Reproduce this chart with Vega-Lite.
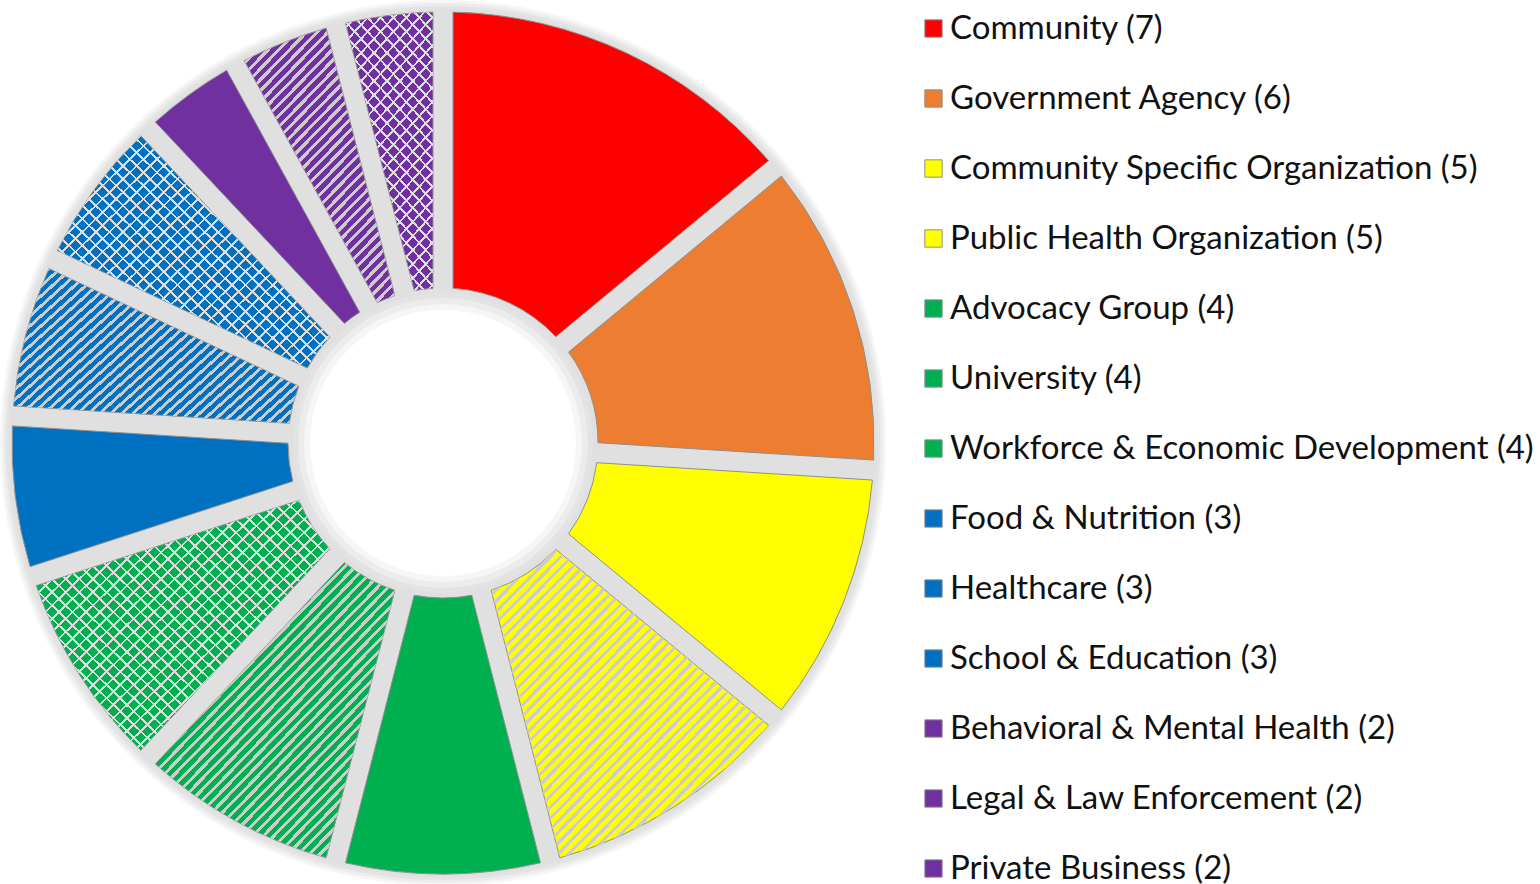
{
"$schema":"https://vega.github.io/schema/vega-lite/v6.json",
"width":886,"height":886,"padding":0,
"background":"white",
"config":{"view":{"stroke":null},"font":"Lato"},
"params":[
{"name":"st","value":[
{"offset":0,"color":"#0000"},{"offset":0,"color":"#ccc"},{"offset":0.008,"color":"#ccc"},{"offset":0.008,"color":"#0000"},
{"offset":0.02,"color":"#0000"},{"offset":0.02,"color":"#ccc"},{"offset":0.028,"color":"#ccc"},{"offset":0.028,"color":"#0000"},
{"offset":0.04,"color":"#0000"},{"offset":0.04,"color":"#ccc"},{"offset":0.048,"color":"#ccc"},{"offset":0.048,"color":"#0000"},
{"offset":0.06,"color":"#0000"},{"offset":0.06,"color":"#ccc"},{"offset":0.068,"color":"#ccc"},{"offset":0.068,"color":"#0000"},
{"offset":0.08,"color":"#0000"},{"offset":0.08,"color":"#ccc"},{"offset":0.088,"color":"#ccc"},{"offset":0.088,"color":"#0000"},
{"offset":0.1,"color":"#0000"},{"offset":0.1,"color":"#ccc"},{"offset":0.108,"color":"#ccc"},{"offset":0.108,"color":"#0000"},
{"offset":0.12,"color":"#0000"},{"offset":0.12,"color":"#ccc"},{"offset":0.128,"color":"#ccc"},{"offset":0.128,"color":"#0000"},
{"offset":0.14,"color":"#0000"},{"offset":0.14,"color":"#ccc"},{"offset":0.148,"color":"#ccc"},{"offset":0.148,"color":"#0000"},
{"offset":0.16,"color":"#0000"},{"offset":0.16,"color":"#ccc"},{"offset":0.168,"color":"#ccc"},{"offset":0.168,"color":"#0000"},
{"offset":0.18,"color":"#0000"},{"offset":0.18,"color":"#ccc"},{"offset":0.188,"color":"#ccc"},{"offset":0.188,"color":"#0000"},
{"offset":0.2,"color":"#0000"},{"offset":0.2,"color":"#ccc"},{"offset":0.208,"color":"#ccc"},{"offset":0.208,"color":"#0000"},
{"offset":0.22,"color":"#0000"},{"offset":0.22,"color":"#ccc"},{"offset":0.228,"color":"#ccc"},{"offset":0.228,"color":"#0000"},
{"offset":0.24,"color":"#0000"},{"offset":0.24,"color":"#ccc"},{"offset":0.248,"color":"#ccc"},{"offset":0.248,"color":"#0000"},
{"offset":0.26,"color":"#0000"},{"offset":0.26,"color":"#ccc"},{"offset":0.268,"color":"#ccc"},{"offset":0.268,"color":"#0000"},
{"offset":0.28,"color":"#0000"},{"offset":0.28,"color":"#ccc"},{"offset":0.288,"color":"#ccc"},{"offset":0.288,"color":"#0000"},
{"offset":0.3,"color":"#0000"},{"offset":0.3,"color":"#ccc"},{"offset":0.308,"color":"#ccc"},{"offset":0.308,"color":"#0000"},
{"offset":0.32,"color":"#0000"},{"offset":0.32,"color":"#ccc"},{"offset":0.328,"color":"#ccc"},{"offset":0.328,"color":"#0000"},
{"offset":0.34,"color":"#0000"},{"offset":0.34,"color":"#ccc"},{"offset":0.348,"color":"#ccc"},{"offset":0.348,"color":"#0000"},
{"offset":0.36,"color":"#0000"},{"offset":0.36,"color":"#ccc"},{"offset":0.368,"color":"#ccc"},{"offset":0.368,"color":"#0000"},
{"offset":0.38,"color":"#0000"},{"offset":0.38,"color":"#ccc"},{"offset":0.388,"color":"#ccc"},{"offset":0.388,"color":"#0000"},
{"offset":0.4,"color":"#0000"},{"offset":0.4,"color":"#ccc"},{"offset":0.408,"color":"#ccc"},{"offset":0.408,"color":"#0000"},
{"offset":0.42,"color":"#0000"},{"offset":0.42,"color":"#ccc"},{"offset":0.428,"color":"#ccc"},{"offset":0.428,"color":"#0000"},
{"offset":0.44,"color":"#0000"},{"offset":0.44,"color":"#ccc"},{"offset":0.448,"color":"#ccc"},{"offset":0.448,"color":"#0000"},
{"offset":0.46,"color":"#0000"},{"offset":0.46,"color":"#ccc"},{"offset":0.468,"color":"#ccc"},{"offset":0.468,"color":"#0000"},
{"offset":0.48,"color":"#0000"},{"offset":0.48,"color":"#ccc"},{"offset":0.488,"color":"#ccc"},{"offset":0.488,"color":"#0000"},
{"offset":0.5,"color":"#0000"},{"offset":0.5,"color":"#ccc"},{"offset":0.508,"color":"#ccc"},{"offset":0.508,"color":"#0000"},
{"offset":0.52,"color":"#0000"},{"offset":0.52,"color":"#ccc"},{"offset":0.528,"color":"#ccc"},{"offset":0.528,"color":"#0000"},
{"offset":0.54,"color":"#0000"},{"offset":0.54,"color":"#ccc"},{"offset":0.548,"color":"#ccc"},{"offset":0.548,"color":"#0000"},
{"offset":0.56,"color":"#0000"},{"offset":0.56,"color":"#ccc"},{"offset":0.568,"color":"#ccc"},{"offset":0.568,"color":"#0000"},
{"offset":0.58,"color":"#0000"},{"offset":0.58,"color":"#ccc"},{"offset":0.588,"color":"#ccc"},{"offset":0.588,"color":"#0000"},
{"offset":0.6,"color":"#0000"},{"offset":0.6,"color":"#ccc"},{"offset":0.608,"color":"#ccc"},{"offset":0.608,"color":"#0000"},
{"offset":0.62,"color":"#0000"},{"offset":0.62,"color":"#ccc"},{"offset":0.628,"color":"#ccc"},{"offset":0.628,"color":"#0000"},
{"offset":0.64,"color":"#0000"},{"offset":0.64,"color":"#ccc"},{"offset":0.648,"color":"#ccc"},{"offset":0.648,"color":"#0000"},
{"offset":0.66,"color":"#0000"},{"offset":0.66,"color":"#ccc"},{"offset":0.668,"color":"#ccc"},{"offset":0.668,"color":"#0000"},
{"offset":0.68,"color":"#0000"},{"offset":0.68,"color":"#ccc"},{"offset":0.688,"color":"#ccc"},{"offset":0.688,"color":"#0000"},
{"offset":0.7,"color":"#0000"},{"offset":0.7,"color":"#ccc"},{"offset":0.708,"color":"#ccc"},{"offset":0.708,"color":"#0000"},
{"offset":0.72,"color":"#0000"},{"offset":0.72,"color":"#ccc"},{"offset":0.728,"color":"#ccc"},{"offset":0.728,"color":"#0000"},
{"offset":0.74,"color":"#0000"},{"offset":0.74,"color":"#ccc"},{"offset":0.748,"color":"#ccc"},{"offset":0.748,"color":"#0000"},
{"offset":0.76,"color":"#0000"},{"offset":0.76,"color":"#ccc"},{"offset":0.768,"color":"#ccc"},{"offset":0.768,"color":"#0000"},
{"offset":0.78,"color":"#0000"},{"offset":0.78,"color":"#ccc"},{"offset":0.788,"color":"#ccc"},{"offset":0.788,"color":"#0000"},
{"offset":0.8,"color":"#0000"},{"offset":0.8,"color":"#ccc"},{"offset":0.808,"color":"#ccc"},{"offset":0.808,"color":"#0000"},
{"offset":0.82,"color":"#0000"},{"offset":0.82,"color":"#ccc"},{"offset":0.828,"color":"#ccc"},{"offset":0.828,"color":"#0000"},
{"offset":0.84,"color":"#0000"},{"offset":0.84,"color":"#ccc"},{"offset":0.848,"color":"#ccc"},{"offset":0.848,"color":"#0000"},
{"offset":0.86,"color":"#0000"},{"offset":0.86,"color":"#ccc"},{"offset":0.868,"color":"#ccc"},{"offset":0.868,"color":"#0000"},
{"offset":0.88,"color":"#0000"},{"offset":0.88,"color":"#ccc"},{"offset":0.888,"color":"#ccc"},{"offset":0.888,"color":"#0000"},
{"offset":0.9,"color":"#0000"},{"offset":0.9,"color":"#ccc"},{"offset":0.908,"color":"#ccc"},{"offset":0.908,"color":"#0000"},
{"offset":0.92,"color":"#0000"},{"offset":0.92,"color":"#ccc"},{"offset":0.928,"color":"#ccc"},{"offset":0.928,"color":"#0000"},
{"offset":0.94,"color":"#0000"},{"offset":0.94,"color":"#ccc"},{"offset":0.948,"color":"#ccc"},{"offset":0.948,"color":"#0000"},
{"offset":0.96,"color":"#0000"},{"offset":0.96,"color":"#ccc"},{"offset":0.968,"color":"#ccc"},{"offset":0.968,"color":"#0000"},
{"offset":0.98,"color":"#0000"},{"offset":0.98,"color":"#ccc"},{"offset":0.988,"color":"#ccc"},{"offset":0.988,"color":"#0000"},
{"offset":1,"color":"#0000"}]},
{"name":"cs","value":[
{"offset":0,"color":"#0000"},{"offset":0,"color":"#ddd"},{"offset":0.005,"color":"#ddd"},{"offset":0.005,"color":"#0000"},
{"offset":0.025,"color":"#0000"},{"offset":0.025,"color":"#ddd"},{"offset":0.03,"color":"#ddd"},{"offset":0.03,"color":"#0000"},
{"offset":0.05,"color":"#0000"},{"offset":0.05,"color":"#ddd"},{"offset":0.055,"color":"#ddd"},{"offset":0.055,"color":"#0000"},
{"offset":0.075,"color":"#0000"},{"offset":0.075,"color":"#ddd"},{"offset":0.08,"color":"#ddd"},{"offset":0.08,"color":"#0000"},
{"offset":0.1,"color":"#0000"},{"offset":0.1,"color":"#ddd"},{"offset":0.105,"color":"#ddd"},{"offset":0.105,"color":"#0000"},
{"offset":0.125,"color":"#0000"},{"offset":0.125,"color":"#ddd"},{"offset":0.13,"color":"#ddd"},{"offset":0.13,"color":"#0000"},
{"offset":0.15,"color":"#0000"},{"offset":0.15,"color":"#ddd"},{"offset":0.155,"color":"#ddd"},{"offset":0.155,"color":"#0000"},
{"offset":0.175,"color":"#0000"},{"offset":0.175,"color":"#ddd"},{"offset":0.18,"color":"#ddd"},{"offset":0.18,"color":"#0000"},
{"offset":0.2,"color":"#0000"},{"offset":0.2,"color":"#ddd"},{"offset":0.205,"color":"#ddd"},{"offset":0.205,"color":"#0000"},
{"offset":0.225,"color":"#0000"},{"offset":0.225,"color":"#ddd"},{"offset":0.23,"color":"#ddd"},{"offset":0.23,"color":"#0000"},
{"offset":0.25,"color":"#0000"},{"offset":0.25,"color":"#ddd"},{"offset":0.255,"color":"#ddd"},{"offset":0.255,"color":"#0000"},
{"offset":0.275,"color":"#0000"},{"offset":0.275,"color":"#ddd"},{"offset":0.28,"color":"#ddd"},{"offset":0.28,"color":"#0000"},
{"offset":0.3,"color":"#0000"},{"offset":0.3,"color":"#ddd"},{"offset":0.305,"color":"#ddd"},{"offset":0.305,"color":"#0000"},
{"offset":0.325,"color":"#0000"},{"offset":0.325,"color":"#ddd"},{"offset":0.33,"color":"#ddd"},{"offset":0.33,"color":"#0000"},
{"offset":0.35,"color":"#0000"},{"offset":0.35,"color":"#ddd"},{"offset":0.355,"color":"#ddd"},{"offset":0.355,"color":"#0000"},
{"offset":0.375,"color":"#0000"},{"offset":0.375,"color":"#ddd"},{"offset":0.38,"color":"#ddd"},{"offset":0.38,"color":"#0000"},
{"offset":0.4,"color":"#0000"},{"offset":0.4,"color":"#ddd"},{"offset":0.405,"color":"#ddd"},{"offset":0.405,"color":"#0000"},
{"offset":0.425,"color":"#0000"},{"offset":0.425,"color":"#ddd"},{"offset":0.43,"color":"#ddd"},{"offset":0.43,"color":"#0000"},
{"offset":0.45,"color":"#0000"},{"offset":0.45,"color":"#ddd"},{"offset":0.455,"color":"#ddd"},{"offset":0.455,"color":"#0000"},
{"offset":0.475,"color":"#0000"},{"offset":0.475,"color":"#ddd"},{"offset":0.48,"color":"#ddd"},{"offset":0.48,"color":"#0000"},
{"offset":0.5,"color":"#0000"},{"offset":0.5,"color":"#ddd"},{"offset":0.505,"color":"#ddd"},{"offset":0.505,"color":"#0000"},
{"offset":0.525,"color":"#0000"},{"offset":0.525,"color":"#ddd"},{"offset":0.53,"color":"#ddd"},{"offset":0.53,"color":"#0000"},
{"offset":0.55,"color":"#0000"},{"offset":0.55,"color":"#ddd"},{"offset":0.555,"color":"#ddd"},{"offset":0.555,"color":"#0000"},
{"offset":0.575,"color":"#0000"},{"offset":0.575,"color":"#ddd"},{"offset":0.58,"color":"#ddd"},{"offset":0.58,"color":"#0000"},
{"offset":0.6,"color":"#0000"},{"offset":0.6,"color":"#ddd"},{"offset":0.605,"color":"#ddd"},{"offset":0.605,"color":"#0000"},
{"offset":0.625,"color":"#0000"},{"offset":0.625,"color":"#ddd"},{"offset":0.63,"color":"#ddd"},{"offset":0.63,"color":"#0000"},
{"offset":0.65,"color":"#0000"},{"offset":0.65,"color":"#ddd"},{"offset":0.655,"color":"#ddd"},{"offset":0.655,"color":"#0000"},
{"offset":0.675,"color":"#0000"},{"offset":0.675,"color":"#ddd"},{"offset":0.68,"color":"#ddd"},{"offset":0.68,"color":"#0000"},
{"offset":0.7,"color":"#0000"},{"offset":0.7,"color":"#ddd"},{"offset":0.705,"color":"#ddd"},{"offset":0.705,"color":"#0000"},
{"offset":0.725,"color":"#0000"},{"offset":0.725,"color":"#ddd"},{"offset":0.73,"color":"#ddd"},{"offset":0.73,"color":"#0000"},
{"offset":0.75,"color":"#0000"},{"offset":0.75,"color":"#ddd"},{"offset":0.755,"color":"#ddd"},{"offset":0.755,"color":"#0000"},
{"offset":0.775,"color":"#0000"},{"offset":0.775,"color":"#ddd"},{"offset":0.78,"color":"#ddd"},{"offset":0.78,"color":"#0000"},
{"offset":0.8,"color":"#0000"},{"offset":0.8,"color":"#ddd"},{"offset":0.805,"color":"#ddd"},{"offset":0.805,"color":"#0000"},
{"offset":0.825,"color":"#0000"},{"offset":0.825,"color":"#ddd"},{"offset":0.83,"color":"#ddd"},{"offset":0.83,"color":"#0000"},
{"offset":0.85,"color":"#0000"},{"offset":0.85,"color":"#ddd"},{"offset":0.855,"color":"#ddd"},{"offset":0.855,"color":"#0000"},
{"offset":0.875,"color":"#0000"},{"offset":0.875,"color":"#ddd"},{"offset":0.88,"color":"#ddd"},{"offset":0.88,"color":"#0000"},
{"offset":0.9,"color":"#0000"},{"offset":0.9,"color":"#ddd"},{"offset":0.905,"color":"#ddd"},{"offset":0.905,"color":"#0000"},
{"offset":0.925,"color":"#0000"},{"offset":0.925,"color":"#ddd"},{"offset":0.93,"color":"#ddd"},{"offset":0.93,"color":"#0000"},
{"offset":0.95,"color":"#0000"},{"offset":0.95,"color":"#ddd"},{"offset":0.955,"color":"#ddd"},{"offset":0.955,"color":"#0000"},
{"offset":0.975,"color":"#0000"},{"offset":0.975,"color":"#ddd"},{"offset":0.98,"color":"#ddd"},{"offset":0.98,"color":"#0000"},
{"offset":1,"color":"#0000"}]}
],
"data":{"values":[
{"idx":1,"category":"Community","count":7,"label":"Community (7)"},
{"idx":2,"category":"Government Agency","count":6,"label":"Government Agency (6)"},
{"idx":3,"category":"Community Specific Organization","count":5,"label":"Community Specific Organization (5)"},
{"idx":4,"category":"Public Health Organization","count":5,"label":"Public Health Organization (5)"},
{"idx":5,"category":"Advocacy Group","count":4,"label":"Advocacy Group (4)"},
{"idx":6,"category":"University","count":4,"label":"University (4)"},
{"idx":7,"category":"Workforce & Economic Development","count":4,"label":"Workforce & Economic Development (4)"},
{"idx":8,"category":"Food & Nutrition","count":3,"label":"Food & Nutrition (3)"},
{"idx":9,"category":"Healthcare","count":3,"label":"Healthcare (3)"},
{"idx":10,"category":"School & Education","count":3,"label":"School & Education (3)"},
{"idx":11,"category":"Behavioral & Mental Health","count":2,"label":"Behavioral & Mental Health (2)"},
{"idx":12,"category":"Legal & Law Enforcement","count":2,"label":"Legal & Law Enforcement (2)"},
{"idx":13,"category":"Private Business","count":2,"label":"Private Business (2)"}
]},
"layer":[
{"transform":[{"aggregate":[{"op":"sum","field":"count","as":"total"}]}],
 "mark":{"type":"arc","radius":443,"radius2":133,"fill":"#e4e4e4","opacity":0.35},
 "encoding":{"theta":{"field":"total","type":"quantitative","stack":true}}},
{"transform":[{"aggregate":[{"op":"sum","field":"count","as":"total"}]}],
 "mark":{"type":"arc","radius":440,"radius2":139,"fill":"#e2e2e2","opacity":0.5},
 "encoding":{"theta":{"field":"total","type":"quantitative","stack":true}}},
{"transform":[{"aggregate":[{"op":"sum","field":"count","as":"total"}]}],
 "mark":{"type":"arc","radius":437,"radius2":145,"fill":"#e0e0e0","opacity":0.7},
 "encoding":{"theta":{"field":"total","type":"quantitative","stack":true}}},
{"transform":[{"aggregate":[{"op":"sum","field":"count","as":"total"}]}],
 "mark":{"type":"arc","radius":434,"radius2":150,"fill":"#e0e0e0","opacity":1},
 "encoding":{"theta":{"field":"total","type":"quantitative","stack":true}}},
{"mark":{"type":"arc","radius":431,"radius2":155,"padAngle":0.0437,"stroke":"#8f8f8f","strokeWidth":1},
 "encoding":{
  "theta":{"field":"count","type":"quantitative","stack":true},
  "order":{"field":"idx","type":"quantitative"},
  "color":{"field":"label","type":"nominal",
   "scale":{"domain":["Community (7)","Government Agency (6)","Community Specific Organization (5)","Public Health Organization (5)","Advocacy Group (4)","University (4)","Workforce & Economic Development (4)","Food & Nutrition (3)","Healthcare (3)","School & Education (3)","Behavioral & Mental Health (2)","Legal & Law Enforcement (2)","Private Business (2)"],
    "range":["#FF0000","#ED7D31","#FFFF00","#FFFF00","#00B050","#00B050","#00B050","#0070C0","#0070C0","#0070C0","#7030A0","#7030A0","#7030A0"]},
   "legend":{"orient":"none","legendX":917,"legendY":12,"title":null,"padding":0,"symbolType":"square","symbolSize":300,"symbolStrokeColor":"#8f8f8f","symbolStrokeWidth":1,"symbolOpacity":1,"labelFont":"Lato","labelFontSize":33,"labelColor":"#111111","labelOffset":0,"labelLimit":800,"rowPadding":36}}}},
{"mark":{"type":"arc","radius":431,"radius2":155,"padAngle":0.0437,"strokeWidth":0,
  "fill":{"expr":"datum.idx==4?{gradient:'linear',x1:0,y1:0,x2:0.88,y2:0.96,stops:st}:datum.idx==6?{gradient:'linear',x1:0,y1:0,x2:0.91,y2:1.09,stops:st}:datum.idx==9?{gradient:'linear',x1:0,y1:0,x2:1.43,y2:0.86,stops:st}:datum.idx==12?{gradient:'linear',x1:0,y1:0,x2:0.86,y2:1.52,stops:st}:datum.idx==7?{gradient:'linear',x1:0,y1:0,x2:1.05,y2:0.92,stops:cs}:datum.idx==10?{gradient:'linear',x1:0,y1:0,x2:1.13,y2:0.99,stops:cs}:datum.idx==13?{gradient:'linear',x1:0,y1:0,x2:0.62,y2:1.81,stops:cs}:'transparent'"}},
 "encoding":{
  "theta":{"field":"count","type":"quantitative","stack":true},
  "order":{"field":"idx","type":"quantitative"}}},
{"mark":{"type":"arc","radius":431,"radius2":155,"padAngle":0.0437,"strokeWidth":0,
  "fill":{"expr":"datum.idx==7?{gradient:'linear',x1:0,y1:1,x2:1.05,y2:0.08,stops:cs}:datum.idx==10?{gradient:'linear',x1:0,y1:1,x2:1.13,y2:0.01,stops:cs}:datum.idx==13?{gradient:'linear',x1:0,y1:1,x2:0.62,y2:-0.81,stops:cs}:'transparent'"}},
 "encoding":{
  "theta":{"field":"count","type":"quantitative","stack":true},
  "order":{"field":"idx","type":"quantitative"}}}
]
}
